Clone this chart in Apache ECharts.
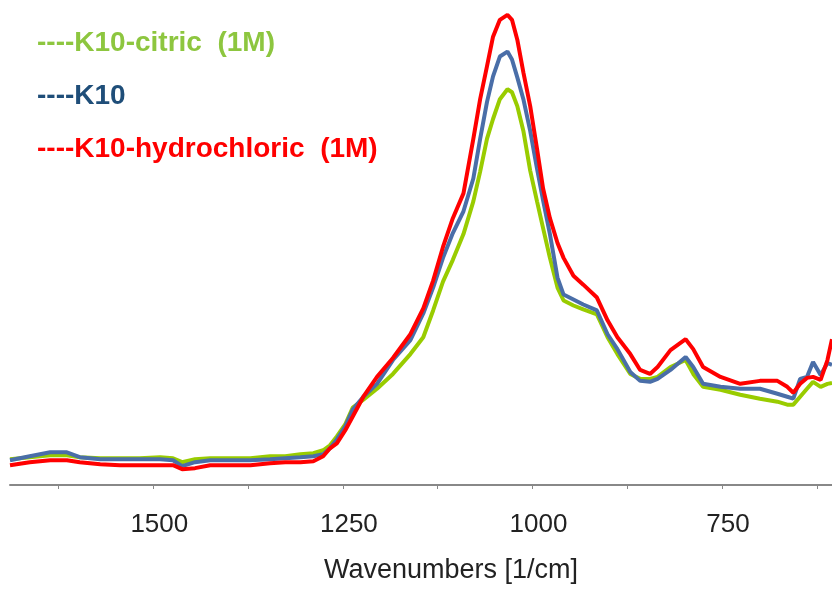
<!DOCTYPE html>
<html>
<head>
<meta charset="utf-8">
<script src="https://cdn.jsdelivr.net/npm/echarts@6/dist/echarts.min.js"></script>
<style>
  html, body { margin: 0; padding: 0; background: #fff; }
  #main { width: 832px; height: 589px; }
</style>
</head>
<body>
<div id="main"></div>
<script>
// wavenumbers [1/cm], shared by the three spectra
var wavenumbers = [1689, 1663, 1636, 1614, 1597, 1570, 1544, 1518, 1491, 1474,
  1462, 1445, 1425, 1399, 1372, 1346, 1326, 1306, 1289, 1276,
  1267, 1258, 1247, 1237, 1223, 1205, 1184, 1161, 1144, 1131,
  1118, 1105, 1091, 1078, 1069, 1060, 1052, 1043, 1033, 1027,
  1020, 1012, 1003, 994, 986, 977, 967, 959, 946, 933,
  915, 901, 888, 871, 858, 845, 835, 818, 798, 788,
  775, 752, 726, 700, 677, 664, 656, 647, 638, 630,
  620, 611, 605];

var citric = [0.052, 0.056, 0.060, 0.060, 0.056, 0.054, 0.054, 0.054, 0.056, 0.054,
  0.046, 0.052, 0.054, 0.054, 0.054, 0.058, 0.058, 0.062, 0.064, 0.070,
  0.080, 0.098, 0.122, 0.156, 0.172, 0.194, 0.224, 0.264, 0.298, 0.352,
  0.410, 0.454, 0.506, 0.572, 0.632, 0.698, 0.738, 0.778, 0.798, 0.792,
  0.764, 0.714, 0.634, 0.572, 0.518, 0.458, 0.398, 0.372, 0.362, 0.354,
  0.344, 0.298, 0.264, 0.224, 0.214, 0.214, 0.218, 0.238, 0.252, 0.224,
  0.198, 0.192, 0.182, 0.174, 0.168, 0.162, 0.162, 0.178, 0.194, 0.208,
  0.198, 0.204, 0.206];

var k10 = [0.050, 0.058, 0.066, 0.066, 0.056, 0.052, 0.052, 0.052, 0.052, 0.050,
  0.038, 0.046, 0.050, 0.050, 0.050, 0.052, 0.054, 0.056, 0.058, 0.062,
  0.074, 0.092, 0.118, 0.152, 0.178, 0.204, 0.252, 0.292, 0.346, 0.398,
  0.458, 0.508, 0.552, 0.618, 0.698, 0.772, 0.824, 0.864, 0.874, 0.858,
  0.822, 0.778, 0.714, 0.638, 0.574, 0.506, 0.418, 0.384, 0.374, 0.364,
  0.352, 0.304, 0.274, 0.228, 0.210, 0.208, 0.214, 0.232, 0.258, 0.238,
  0.204, 0.198, 0.194, 0.194, 0.184, 0.178, 0.174, 0.214, 0.218, 0.248,
  0.222, 0.246, 0.242];

var hydrochloric = [0.040, 0.046, 0.050, 0.050, 0.046, 0.042, 0.040, 0.040, 0.040, 0.040,
  0.032, 0.034, 0.040, 0.040, 0.040, 0.044, 0.046, 0.046, 0.048, 0.058,
  0.074, 0.084, 0.110, 0.138, 0.178, 0.218, 0.256, 0.304, 0.356, 0.412,
  0.480, 0.538, 0.588, 0.698, 0.778, 0.844, 0.904, 0.938, 0.948, 0.938,
  0.898, 0.832, 0.764, 0.678, 0.598, 0.538, 0.488, 0.458, 0.422, 0.404,
  0.378, 0.332, 0.298, 0.264, 0.232, 0.224, 0.238, 0.272, 0.294, 0.274,
  0.238, 0.218, 0.204, 0.210, 0.210, 0.198, 0.186, 0.204, 0.216, 0.218,
  0.212, 0.252, 0.294];

var tickValues = [625, 750, 875, 1000, 1125, 1250, 1375, 1500, 1625];
var labelValues = [750, 1000, 1250, 1500];

function pairs(values) {
  return wavenumbers.map(function (w, i) { return [w, values[i]]; });
}

var myChart = echarts.init(document.getElementById('main'), null, { renderer: 'canvas' });

var option = {
  animation: false,
  backgroundColor: '#ffffff',
  grid: {
    left: 10,
    right: 0,
    top: 0,
    bottom: 100
  },
  legend: {
    orient: 'vertical',
    left: 27,
    top: 22,
    itemWidth: 0,
    itemHeight: 0,
    itemGap: 21,
    selectedMode: false,
    formatter: function (name) { return '----' + name; },
    textStyle: {
      fontFamily: '"Liberation Sans", Arial, sans-serif',
      fontWeight: 'bold',
      fontSize: 28,
      lineHeight: 32
    },
    data: [
      { name: 'K10-citric  (1M)', icon: 'rect', textStyle: { color: '#8dc63f' } },
      { name: 'K10', icon: 'rect', textStyle: { color: '#1f4e79' } },
      { name: 'K10-hydrochloric  (1M)', icon: 'rect', textStyle: { color: '#ff0000' } }
    ]
  },
  xAxis: {
    type: 'value',
    inverse: true,
    min: 605,
    max: 1689,
    name: 'Wavenumbers [1/cm]',
    nameLocation: 'middle',
    nameGap: 72,
    nameTextStyle: {
      color: '#222',
      fontSize: 27,
      fontFamily: '"Liberation Sans", Arial, sans-serif',
      padding: [0, 0, 0, 60]
    },
    axisLine: { lineStyle: { color: '#888', width: 2 } },
    axisTick: {
      customValues: tickValues,
      length: 4,
      lineStyle: { color: '#888', width: 1 }
    },
    axisLabel: {
      customValues: labelValues,
      formatter: function (v) { return String(v); },
      margin: 27,
      color: '#222',
      fontSize: 26,
      fontFamily: '"Liberation Sans", Arial, sans-serif',
      padding: [0, 0, 0, 12]
    },
    splitLine: { show: false }
  },
  yAxis: {
    type: 'value',
    min: 0,
    max: 0.978,
    show: false
  },
  series: [
    {
      name: 'K10-citric  (1M)',
      type: 'line',
      showSymbol: false,
      data: pairs(citric),
      lineStyle: { color: '#99cc00', width: 4 },
      itemStyle: { color: '#99cc00' }
    },
    {
      name: 'K10',
      type: 'line',
      showSymbol: false,
      data: pairs(k10),
      lineStyle: { color: '#4a6ea8', width: 4 },
      itemStyle: { color: '#4a6ea8' }
    },
    {
      name: 'K10-hydrochloric  (1M)',
      type: 'line',
      showSymbol: false,
      data: pairs(hydrochloric),
      lineStyle: { color: '#ff0000', width: 4 },
      itemStyle: { color: '#ff0000' }
    }
  ]
};

myChart.setOption(option);
</script>
</body>
</html>
